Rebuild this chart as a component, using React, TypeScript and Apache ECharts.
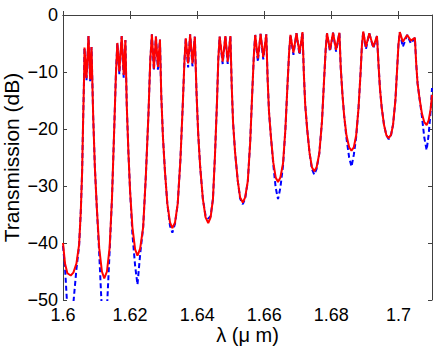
import React, { useEffect, useRef } from 'react';
import * as echarts from 'echarts';

// wavelength in micrometres
const wavelength = [
  1.6000, 1.6006, 1.6013, 1.6023, 1.6031, 1.6040, 1.6048, 1.6053, 1.6057, 1.6060, 1.6063,
  1.6064, 1.6070, 1.6076, 1.6081, 1.6085,
  1.6090, 1.6095, 1.6101, 1.6108, 1.6116, 1.6123,
  1.6131, 1.6139, 1.6146, 1.6153, 1.6158,
  1.6162, 1.6168, 1.6175, 1.6181, 1.6186,
  1.6190, 1.6195, 1.6200, 1.6207, 1.6215, 1.6222,
  1.6230, 1.6239, 1.6247, 1.6255, 1.6260,
  1.6265, 1.6271, 1.6277, 1.6283, 1.6289,
  1.6293, 1.6298, 1.6304, 1.6311, 1.6319, 1.6326,
  1.6334, 1.6342, 1.6350, 1.6357, 1.6362,
  1.6366, 1.6373, 1.6379, 1.6386, 1.6393,
  1.6398, 1.6403, 1.6409, 1.6417, 1.6425, 1.6433,
  1.6440, 1.6447, 1.6453, 1.6459, 1.6463,
  1.6467, 1.6476, 1.6484, 1.6491, 1.6499,
  1.6503, 1.6507, 1.6513, 1.6521, 1.6528, 1.6536,
  1.6543, 1.6551, 1.6558, 1.6564, 1.6569,
  1.6573, 1.6581, 1.6589, 1.6597, 1.6606,
  1.6610, 1.6614, 1.6620, 1.6627, 1.6634, 1.6641,
  1.6648, 1.6656, 1.6663, 1.6669, 1.6674,
  1.6678, 1.6687, 1.6696, 1.6705, 1.6714,
  1.6718, 1.6722, 1.6728, 1.6735, 1.6742, 1.6749,
  1.6756, 1.6764, 1.6772, 1.6778, 1.6783,
  1.6787, 1.6796, 1.6805, 1.6814, 1.6824,
  1.6828, 1.6833, 1.6838, 1.6845, 1.6853, 1.6860,
  1.6867, 1.6874, 1.6881, 1.6887, 1.6891,
  1.6895, 1.6903, 1.6913, 1.6925, 1.6936,
  1.6941, 1.6945, 1.6950, 1.6957, 1.6964, 1.6971,
  1.6978, 1.6984, 1.6991, 1.6996, 1.7000,
  1.7004, 1.7013, 1.7026, 1.7037, 1.7049,
  1.7053, 1.7057, 1.7063, 1.7070, 1.7077, 1.7084,
  1.7090, 1.7096, 1.7100,
];

// red solid trace (dB)
const solidDb = [
  -40.0, -43.6, -45.3, -45.7, -45.2, -43.6, -40.3, -34.5, -27.5, -18.5, -10.5,
  -5.7, -11.1, -3.7, -11.3, -5.6,
  -17.8, -26.7, -34.0, -40.9, -45.0, -46.2,
  -45.0, -40.8, -32.2, -19.4, -9.9,
  -4.9, -9.9, -3.7, -10.5, -4.4,
  -15.7, -24.1, -30.9, -37.3, -41.1, -42.2,
  -41.0, -37.2, -28.2, -17.0, -8.1,
  -3.4, -9.4, -3.8, -9.1, -4.3,
  -14.2, -21.5, -27.5, -33.1, -36.4, -37.4,
  -36.4, -33.1, -25.4, -15.8, -8.1,
  -4.1, -8.5, -3.4, -8.5, -3.8,
  -13.6, -20.8, -26.7, -32.3, -35.5, -36.5,
  -35.5, -32.3, -24.7, -15.3, -7.7,
  -3.8, -8.2, -3.7, -8.2, -3.7,
  -12.5, -18.9, -24.1, -29.1, -32.0, -32.9,
  -32.0, -29.1, -22.3, -13.8, -7.0,
  -3.5, -7.6, -3.3, -7.4, -3.4,
  -11.2, -16.9, -21.5, -25.9, -28.5, -29.3,
  -28.5, -26.0, -20.0, -12.5, -6.6,
  -3.5, -6.6, -3.2, -6.7, -3.0,
  -10.3, -15.7, -20.1, -24.2, -26.7, -27.4,
  -26.7, -24.3, -18.7, -11.7, -6.1,
  -3.2, -6.1, -3.1, -6.1, -3.1,
  -9.3, -13.9, -17.6, -21.1, -23.2, -23.8,
  -23.2, -21.1, -16.3, -10.2, -5.4,
  -2.9, -5.6, -3.2, -5.6, -3.7,
  -9.1, -13.0, -16.2, -19.3, -21.1, -21.6,
  -21.0, -19.2, -14.9, -9.5, -5.2,
  -3.0, -4.7, -3.5, -4.5, -4.0,
  -8.6, -12.0, -14.7, -17.3, -18.8, -19.3,
  -18.5, -16.5, -14.0,
];

// blue dashed trace (dB)
const dashedDb = [
  -40.5, -44.3, -51.5, -58.0, -50.5, -44.6, -40.5, -34.5, -27.5, -18.5, -10.5,
  -5.7, -11.5, -3.7, -11.6, -5.6,
  -17.8, -26.7, -34.0, -41.9, -52.0, -58.0,
  -51.5, -41.5, -32.2, -19.4, -9.9,
  -4.9, -10.4, -3.7, -11.0, -4.4,
  -15.7, -24.1, -30.9, -38.5, -44.0, -47.3,
  -42.0, -37.2, -28.2, -17.0, -8.1,
  -3.4, -9.8, -3.8, -9.6, -4.3,
  -14.2, -21.5, -27.5, -33.1, -37.0, -38.2,
  -36.6, -33.1, -25.4, -15.8, -8.1,
  -4.1, -9.2, -3.4, -9.0, -3.8,
  -13.6, -20.8, -26.7, -32.3, -35.2, -35.7,
  -35.3, -32.3, -24.7, -15.3, -7.7,
  -3.8, -8.6, -3.7, -8.6, -3.7,
  -12.5, -18.9, -24.1, -29.1, -32.2, -33.2,
  -32.2, -29.1, -22.3, -13.8, -7.0,
  -3.5, -8.2, -3.3, -7.8, -3.4,
  -11.2, -16.9, -21.5, -26.3, -30.3, -32.3,
  -30.3, -26.4, -20.0, -12.5, -6.6,
  -3.5, -7.0, -3.2, -7.0, -3.0,
  -10.3, -15.7, -20.1, -24.2, -27.0, -28.0,
  -27.0, -24.3, -18.7, -11.7, -6.1,
  -3.2, -6.4, -3.1, -6.4, -3.1,
  -9.3, -13.9, -17.6, -21.6, -25.0, -26.6,
  -24.5, -21.4, -16.3, -10.2, -5.4,
  -2.9, -6.0, -3.2, -5.8, -3.7,
  -9.1, -13.0, -16.2, -19.3, -21.1, -21.8,
  -21.0, -19.2, -14.9, -9.5, -5.2,
  -3.0, -5.6, -3.5, -5.0, -4.0,
  -8.6, -12.0, -14.7, -17.8, -21.5, -23.7,
  -21.0, -16.8, -12.8,
];

const xTickLabels = ['1.6', '1.62', '1.64', '1.66', '1.68', '1.7'];
const yTickLabels = ['0', '−10', '−20', '−30', '−40', '−50'];
const xTitle = 'λ (μ m)';
const yTitle = 'Transmission (dB)';

export default function App() {
  const ref = useRef<HTMLDivElement>(null);
  useEffect(() => {
    const chart = echarts.init(ref.current!, null, { renderer: 'svg' });
    const font = '"Liberation Sans", Arial, Helvetica, sans-serif';
    const axisColor = '#404040';
    const fmtX = (v: number) => {
      const k = Math.round(v * 50);
      if (Math.abs(v * 50 - k) > 1e-6) return '';
      const s = String(+(k / 50).toFixed(2));
      return xTickLabels.includes(s) ? s : '';
    };
    const fmtY = (v: number) => {
      const s = v === 0 ? '0' : '−' + Math.abs(v);
      return yTickLabels.includes(s) ? s : '';
    };
    const axisLine = { show: true, lineStyle: { color: axisColor, width: 1 } };
    const tick = { show: true, inside: true, length: 4, lineStyle: { color: axisColor, width: 1 } };
    const labelStyle = { color: '#000', fontSize: 18, fontFamily: font };
    chart.setOption({
      animation: false,
      backgroundColor: '#fff',
      grid: { left: 63, right: 4, top: 15, bottom: 47, containLabel: false, outerBoundsMode: 'none' },
      xAxis: [
        {
          type: 'value', min: 1.6, max: 1.71, interval: 0.02, position: 'bottom',
          axisLine, axisTick: tick, splitLine: { show: false },
          axisLabel: { ...labelStyle, margin: 6, formatter: fmtX, showMaxLabel: false },
          name: xTitle, nameLocation: 'middle', nameGap: 25, nameMoveOverlap: false,
          nameTextStyle: { color: '#000', fontSize: 20, fontFamily: font },
        },
        {
          type: 'value', min: 1.6, max: 1.71, interval: 0.02, position: 'top',
          axisLine, axisTick: tick, splitLine: { show: false }, axisLabel: { show: false },
        },
      ],
      yAxis: [
        {
          type: 'value', min: -50, max: 0, interval: 10, position: 'left',
          axisLine, axisTick: tick, splitLine: { show: false },
          axisLabel: { ...labelStyle, margin: 5, formatter: fmtY },
          name: yTitle, nameLocation: 'middle', nameGap: 41, nameMoveOverlap: false,
          nameTextStyle: { color: '#000', fontSize: 21, fontFamily: font },
        },
        {
          type: 'value', min: -50, max: 0, interval: 10, position: 'right',
          axisLine, axisTick: tick, splitLine: { show: false }, axisLabel: { show: false },
        },
      ],
      series: [
        {
          type: 'line', xAxisIndex: 0, yAxisIndex: 0, showSymbol: false, symbol: 'none', clip: true,
          data: wavelength.map((x, i) => [x, dashedDb[i]]),
          lineStyle: { color: '#0000ff', width: 2, type: [5, 3] },
          z: 2,
        },
        {
          type: 'line', xAxisIndex: 0, yAxisIndex: 0, showSymbol: false, symbol: 'none', clip: true,
          data: wavelength.map((x, i) => [x, solidDb[i]]),
          lineStyle: { color: '#ff0000', width: 2 },
          z: 3,
        },
      ],
    });
    return () => chart.dispose();
  }, []);
  return <div ref={ref} style={{ position: 'fixed', left: 0, top: 0, width: 436, height: 347 }} />;
}
